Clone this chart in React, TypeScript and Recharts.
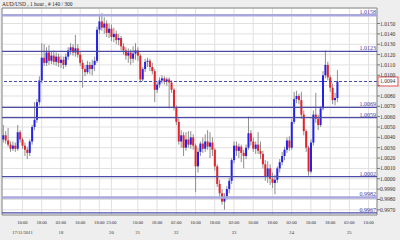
import { Bar, CartesianGrid, ComposedChart, ReferenceArea, ReferenceLine, XAxis, YAxis } from 'recharts'

// hourly AUD/USD candles, oldest first
const opens = [
  1.0038, 1.0042, 1.0037, 1.0033, 1.0029, 1.0032, 1.0029, 1.0045, 1.0038, 1.0032,
  1.0028, 1.0025, 1.0036, 1.005, 1.0057, 1.0074, 1.0095, 1.0117, 1.0112, 1.0122,
  1.0114, 1.0119, 1.0113, 1.0118, 1.0112, 1.0115, 1.011, 1.0118, 1.0124, 1.0127,
  1.0122, 1.0126, 1.012, 1.0112, 1.0106, 1.0103, 1.011, 1.0106, 1.011, 1.0114,
  1.0144, 1.0152, 1.0146, 1.015, 1.0141, 1.0145, 1.0137, 1.014, 1.0134, 1.0136,
  1.0128, 1.0124, 1.0119, 1.0122, 1.0116, 1.0121, 1.0124, 1.0119, 1.0096, 1.0106,
  1.0113, 1.0114, 1.0108, 1.0104, 1.0086, 1.0091, 1.0095, 1.0097, 1.0094, 1.0096,
  1.0093, 1.0086, 1.0069, 1.0055, 1.0036, 1.0042, 1.003, 1.0038, 1.0033, 1.004,
  1.0032, 1.0012, 1.0026, 1.0034, 1.0029, 1.0036, 1.0031, 1.0035, 1.0028, 1.0012,
  0.9995, 0.9986, 0.9978, 0.9983, 0.999, 0.9998, 1.0018, 1.0032, 1.0027, 1.0031,
  1.0025, 1.0022, 1.003, 1.0044, 1.0036, 1.0029, 1.0033, 1.0027, 1.0024, 1.0014,
  1.0002, 1.001, 1.0, 0.9996, 0.9999, 1.001, 1.0016, 1.0022, 1.0028, 1.0037,
  1.003, 1.0055, 1.0077, 1.008, 1.0076, 1.0062, 1.0046, 1.003, 1.0007, 1.0035,
  1.0062, 1.0058, 1.0052, 1.0068, 1.01, 1.011, 1.0098, 1.0088, 1.0076, 1.0078,
]
const highs = [
  1.0052, 1.0046, 1.0049, 1.0036, 1.0036, 1.0035, 1.0052, 1.0047, 1.004, 1.0035,
  1.0031, 1.0038, 1.0052, 1.0074, 1.0077, 1.0099, 1.0131, 1.013, 1.0127, 1.0129,
  1.0123, 1.0124, 1.0122, 1.0121, 1.0119, 1.0118, 1.0121, 1.0127, 1.0131, 1.013,
  1.0139, 1.013, 1.0123, 1.0115, 1.011, 1.0114, 1.0113, 1.0115, 1.0118, 1.0147,
  1.0158, 1.016, 1.0156, 1.0153, 1.015, 1.0149, 1.0146, 1.0143, 1.014, 1.0138,
  1.0131, 1.0127, 1.0126, 1.0125, 1.0128, 1.0131, 1.0127, 1.0121, 1.0108, 1.0116,
  1.0117, 1.0116, 1.0112, 1.0106, 1.0094, 1.0098, 1.01, 1.0099, 1.0098, 1.0098,
  1.0095, 1.0088, 1.0071, 1.0058, 1.0047, 1.0045, 1.0045, 1.0046, 1.0046, 1.0043,
  1.0034, 1.003, 1.0036, 1.004, 1.0043, 1.0047, 1.0045, 1.004, 1.003, 1.0014,
  0.9999, 0.999, 0.9986, 0.9993, 1.0001, 1.002, 1.0036, 1.0036, 1.0034, 1.0033,
  1.0028, 1.0033, 1.006, 1.0047, 1.004, 1.0036, 1.0045, 1.0036, 1.0027, 1.0018,
  1.0017, 1.0014, 1.0006, 1.0004, 1.0012, 1.0019, 1.0026, 1.0031, 1.004, 1.0041,
  1.0058, 1.0084, 1.0085, 1.0082, 1.0084, 1.0066, 1.0048, 1.0032, 1.0038, 1.0066,
  1.0083, 1.0062, 1.007, 1.0104, 1.0124, 1.0113, 1.01, 1.0092, 1.0083, 1.0105,
]
const lows = [
  1.0035, 1.0034, 1.0031, 1.0026, 1.0027, 1.0026, 1.0027, 1.0035, 1.0029, 1.0022,
  1.0019, 1.0022, 1.0033, 1.0047, 1.0054, 1.0071, 1.0092, 1.0109, 1.0109, 1.011,
  1.0111, 1.011, 1.0109, 1.0108, 1.0107, 1.0106, 1.0108, 1.0115, 1.012, 1.0119,
  1.0118, 1.0117, 1.0109, 1.0088, 1.0099, 1.0101, 1.0101, 1.01, 1.0104, 1.0112,
  1.014, 1.0143, 1.014, 1.0137, 1.0136, 1.0133, 1.0132, 1.013, 1.0129, 1.0124,
  1.012, 1.0115, 1.0112, 1.011, 1.0112, 1.0115, 1.0114, 1.0093, 1.0094, 1.0103,
  1.0108, 1.0104, 1.0101, 1.0074, 1.0083, 1.0088, 1.0092, 1.0091, 1.009, 1.0068,
  1.0083, 1.0066, 1.0052, 1.0033, 1.003, 1.0022, 1.0027, 1.003, 1.0029, 1.0028,
  0.9987, 1.0006, 1.0022, 1.0025, 1.0026, 1.0028, 1.002, 1.0022, 1.0008, 0.9992,
  0.9983, 0.9975, 0.997, 0.998, 0.9986, 0.9995, 1.0015, 1.0022, 1.002, 1.0016,
  1.001, 1.0019, 1.0028, 1.0032, 1.0026, 1.0024, 1.0024, 1.0019, 1.001, 0.9998,
  0.9996, 0.9994, 0.9991, 0.9985, 0.9996, 1.0006, 1.0013, 1.0018, 1.0025, 1.0027,
  1.0028, 1.0053, 1.0073, 1.0072, 1.0058, 1.0042, 1.0026, 1.0003, 1.0005, 1.0032,
  1.0054, 1.0047, 1.005, 1.0066, 1.0097, 1.0095, 1.0084, 1.0072, 1.0071, 1.0074,
]
const closes = [
  1.0042, 1.0037, 1.0033, 1.0029, 1.0032, 1.0029, 1.0045, 1.0038, 1.0032, 1.0028,
  1.0025, 1.0036, 1.005, 1.0057, 1.0074, 1.0095, 1.0117, 1.0112, 1.0122, 1.0114,
  1.0119, 1.0113, 1.0118, 1.0112, 1.0115, 1.011, 1.0118, 1.0124, 1.0127, 1.0122,
  1.0126, 1.012, 1.0112, 1.0106, 1.0103, 1.011, 1.0106, 1.011, 1.0114, 1.0144,
  1.0152, 1.0146, 1.015, 1.0141, 1.0145, 1.0137, 1.014, 1.0134, 1.0136, 1.0128,
  1.0124, 1.0119, 1.0122, 1.0116, 1.0121, 1.0124, 1.0119, 1.0096, 1.0106, 1.0113,
  1.0114, 1.0108, 1.0104, 1.0086, 1.0091, 1.0095, 1.0097, 1.0094, 1.0096, 1.0093,
  1.0086, 1.0069, 1.0055, 1.0036, 1.0042, 1.003, 1.0038, 1.0033, 1.004, 1.0032,
  1.0012, 1.0026, 1.0034, 1.0029, 1.0036, 1.0031, 1.0035, 1.0028, 1.0012, 0.9995,
  0.9986, 0.9978, 0.9983, 0.999, 0.9998, 1.0018, 1.0032, 1.0027, 1.0031, 1.0025,
  1.0022, 1.003, 1.0044, 1.0036, 1.0029, 1.0033, 1.0027, 1.0024, 1.0014, 1.0002,
  1.001, 1.0, 0.9996, 0.9999, 1.001, 1.0016, 1.0022, 1.0028, 1.0037, 1.003,
  1.0055, 1.0077, 1.008, 1.0076, 1.0062, 1.0046, 1.003, 1.0007, 1.0035, 1.0062,
  1.0058, 1.0052, 1.0068, 1.01, 1.011, 1.0098, 1.0088, 1.0076, 1.0078, 1.0094,
]

// bar slots incl. empty future space on the right
const slotCount = 156

const tickIdx = [8, 16, 24, 32, 40, 45, 56, 64, 72, 80, 88, 96, 104, 112, 120, 128, 136, 144, 152]
const tickTimes = ['10:00', '18:00', '02:00', '10:00', '18:00', '23:00', '10:00', '18:00', '02:00', '10:00',
  '18:00', '02:00', '10:00', '18:00', '02:00', '10:00', '18:00', '02:00', '10:00']
const tickDates = ['17/11/2011', '', '18', '', '', '20', '21', '', '22', '', '', '23', '', '', '24', '', '', '25', '']

const priceTicks = [0.997, 0.998, 0.999, 1.0, 1.001, 1.002, 1.003, 1.004, 1.005, 1.006,
  1.007, 1.008, 1.009, 1.01, 1.011, 1.012, 1.013, 1.014, 1.015]
const levels = [1.0158, 1.0123, 1.0069, 1.0059, 1.0002, 0.9982, 0.9967]
const yMin = 0.9965
const yMax = 1.0165

const lastClose = closes[closes.length - 1]

const data = Array.from({ length: slotCount }, (_, i) =>
  i < opens.length ? { i, o: opens[i], h: highs[i], l: lows[i], c: closes[i] } : { i },
)

const FONT = '"Liberation Serif", serif'

function Candle(props: any) {
  const { x, y, width, height, payload } = props
  if (payload == null || payload.h == null) return null
  const top = Math.min(y, y + height)
  const span = Math.abs(height)
  const k = payload.h === payload.l ? 0 : span / (payload.h - payload.l)
  const yo = top + (payload.h - payload.o) * k
  const yc = top + (payload.h - payload.c) * k
  const up = payload.c >= payload.o
  const cx = x + width / 2
  return (
    <g>
      <line x1={cx} x2={cx} y1={top} y2={top + span} stroke="#8e8e8e" strokeWidth={1} />
      <rect
        x={x}
        y={Math.min(yo, yc)}
        width={width}
        height={Math.max(1, Math.abs(yc - yo))}
        fill={up ? '#2222e8' : '#e3222a'}
      />
    </g>
  )
}

function TimeTick({ x, y, payload }: any) {
  const k = tickIdx.indexOf(payload.value)
  if (k < 0) return null
  return (
    <g>
      <text x={x} y={y + 1} textAnchor="middle" fontSize={4.6} fontFamily={FONT} fill="#333">
        {tickTimes[k]}
      </text>
      <text x={x} y={y + 11} textAnchor="middle" fontSize={4.6} fontFamily={FONT} fill="#333">
        {tickDates[k]}
      </text>
    </g>
  )
}

function PriceTick({ x, y, payload }: any) {
  if (Math.abs(payload.value - 1.009) < 1e-6) return null
  return (
    <text x={x - 2} y={y + 2} textAnchor="start" fontSize={5.6} fontFamily={FONT} fill="#333">
      {payload.value.toFixed(4)}
    </text>
  )
}

function LevelLabel({ viewBox, value }: any) {
  if (!viewBox) return null
  return (
    <text
      x={viewBox.x + viewBox.width - 1}
      y={viewBox.y - 1}
      textAnchor="end"
      fontSize={6}
      fontFamily={FONT}
      fill="#4040a4"
    >
      {value}
    </text>
  )
}

function LastBox({ viewBox }: any) {
  if (!viewBox) return null
  const bx = viewBox.x + viewBox.width + 1
  return (
    <g>
      <rect x={bx} y={viewBox.y - 4.5} width={20} height={9} fill="#fff" stroke="#e05050" strokeWidth={1} />
      <text x={bx + 2} y={viewBox.y + 2} fontSize={5.6} fontFamily={FONT} fill="#333">
        {lastClose.toFixed(4)}
      </text>
    </g>
  )
}

export default function App() {
  return (
    <div style={{ position: 'absolute', left: 0, top: 0, width: 400, height: 240, background: '#eeeeee' }}>
      <div
        style={{
          position: 'absolute',
          left: 2,
          top: 0,
          fontSize: 5.4,
          lineHeight: '8px',
          fontFamily: FONT,
          color: '#222',
          whiteSpace: 'nowrap',
        }}
      >
        AUD/USD , 1 hour , # 140 / 300
      </div>
      <ComposedChart
        width={400}
        height={240}
        data={data}
        margin={{ top: 8, right: 1, left: 2, bottom: 0 }}
        barCategoryGap="12%"
      >
        <CartesianGrid stroke="#e0e0e0" fill="#ffffff" />
        <XAxis
          dataKey="i"
          type="category"
          ticks={tickIdx}
          interval={0}
          tick={<TimeTick />}
          tickLine={false}
          axisLine={false}
          height={25}
        />
        <YAxis
          orientation="right"
          type="number"
          domain={[yMin, yMax]}
          ticks={priceTicks}
          interval={0}
          allowDataOverflow
          width={22}
          tick={<PriceTick />}
          tickSize={3}
          tickLine={{ stroke: '#777' }}
          axisLine={false}
        />
        <ReferenceArea y1={yMin} y2={yMax} fill="none" stroke="#8a8a8a" strokeWidth={1} />
        {levels.map((v, k) => (
          <ReferenceLine
            key={v}
            y={v}
            stroke={k === 0 || k === 5 ? '#a8a8dc' : '#4c4ca8'}
            strokeWidth={k === 0 || k === 5 ? 2.5 : 1.2}
            label={<LevelLabel value={v.toFixed(4)} />}
          />
        ))}
        <Bar dataKey={(d: any) => (d.h == null ? null : [d.l, d.h])} shape={<Candle />} isAnimationActive={false} />
        <ReferenceLine y={lastClose} stroke="#4848a8" strokeDasharray="3 2" label={<LastBox />} />
      </ComposedChart>
    </div>
  )
}
